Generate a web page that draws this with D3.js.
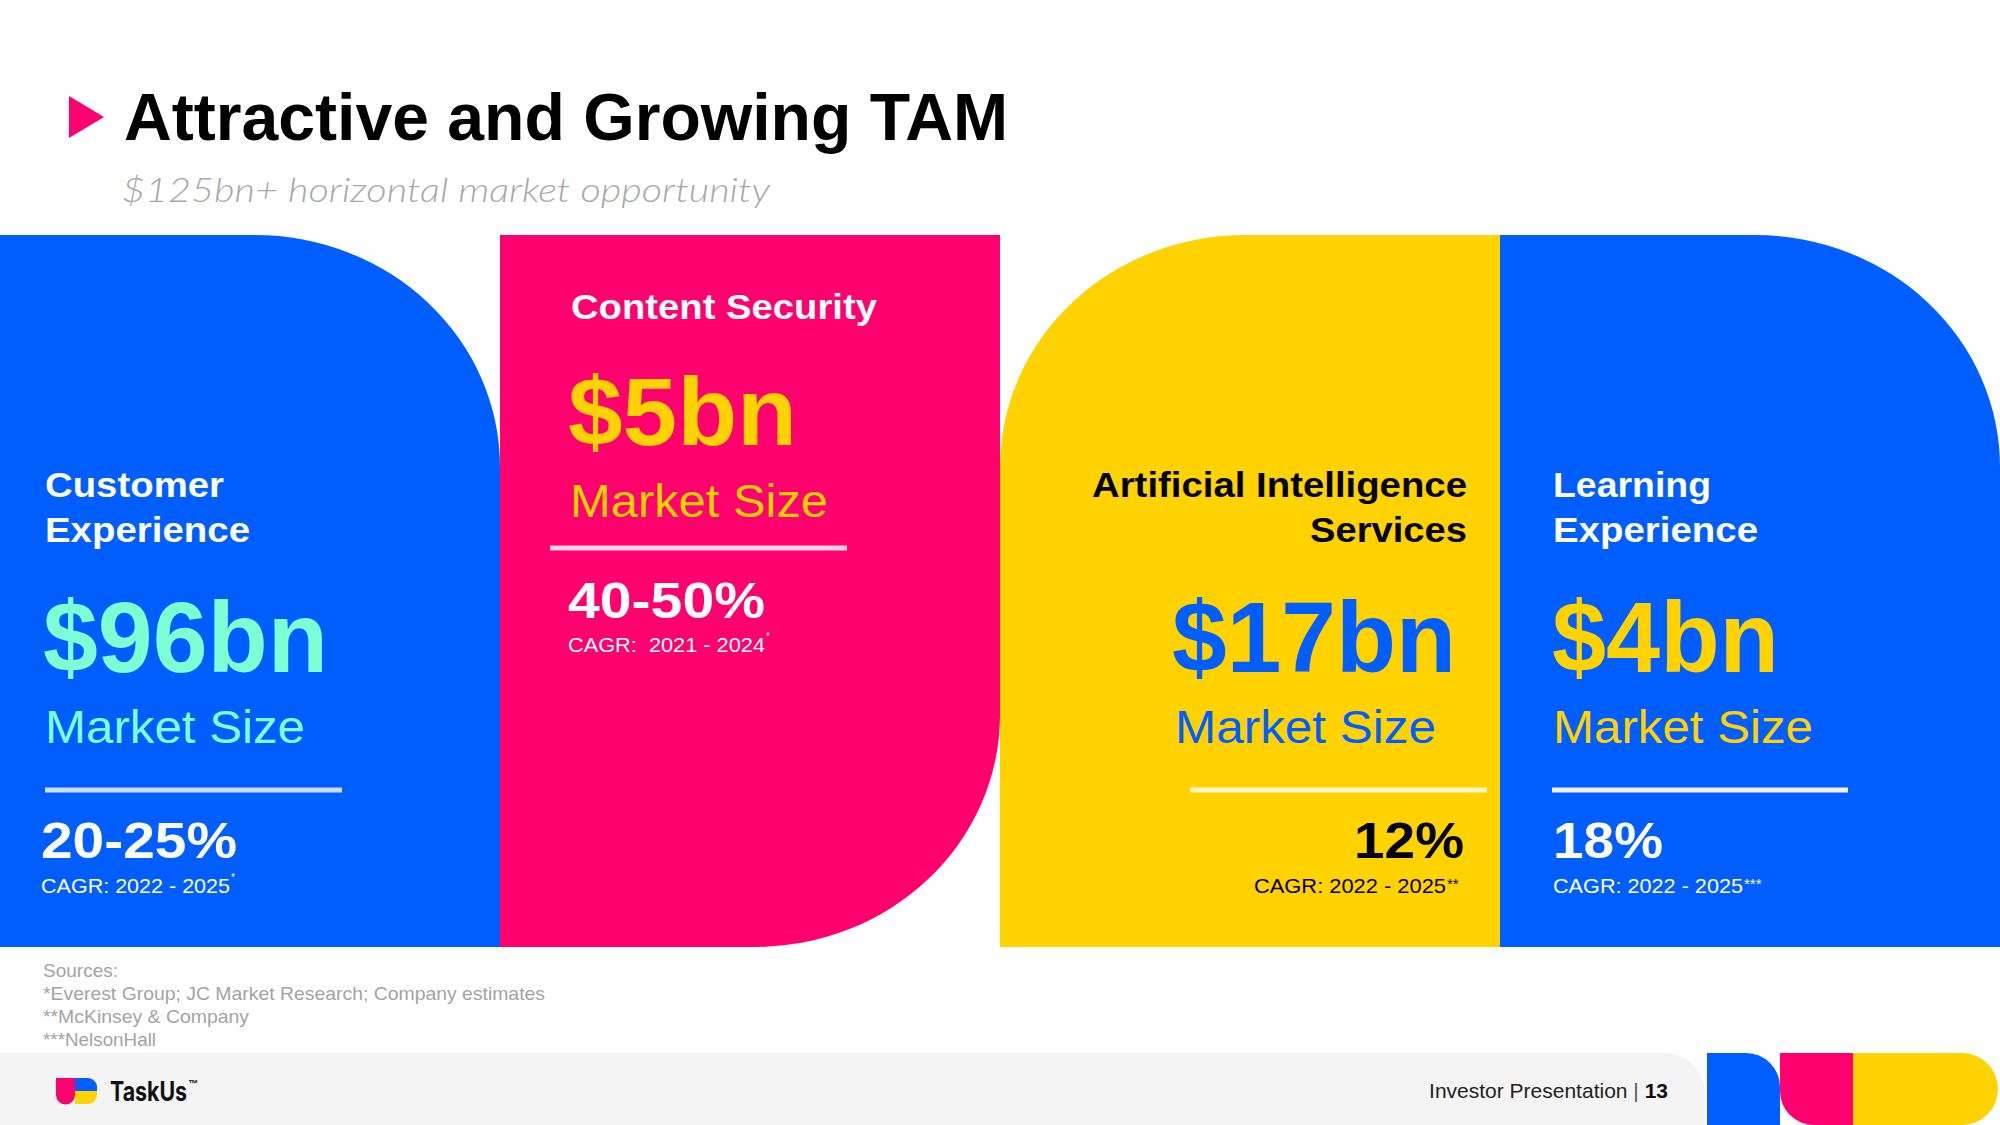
<!DOCTYPE html>
<html>
<head>
<meta charset="utf-8">
<script src="https://cdn.jsdelivr.net/npm/d3@7"></script>
<style>
  html, body { margin: 0; padding: 0; background: #ffffff; }
  svg { display: block; }
  text { font-family: "Liberation Sans", Arial, Helvetica, sans-serif; white-space: pre; }
</style>
</head>
<body>
<script>
// ---------------- DATA ----------------
const categories = ["Customer Experience", "Content Security", "Artificial Intelligence Services", "Learning Experience"];
const categoryLines = [["Customer", "Experience"], ["Content Security"], ["Artificial Intelligence", "Services"], ["Learning", "Experience"]];
const marketSizesBn = [96, 5, 17, 4];
const cagrLabels = ["20-25%", "40-50%", "12%", "18%"];
const cagrPeriods = ["CAGR: 2022 - 2025", "CAGR:  2021 - 2024", "CAGR: 2022 - 2025", "CAGR: 2022 - 2025"];
const sourceMarks = ["*", "*", "**", "***"];
const sourceLines = ["Sources:", "*Everest Group; JC Market Research; Company estimates", "**McKinsey & Company", "***NelsonHall"];
const titleText = "Attractive and Growing TAM";
const subtitleText = "$125bn+ horizontal market opportunity";
const footerText = "Investor Presentation";
const pageNumber = "13";

// ---------------- LAYOUT / STYLE ----------------
const W = 2000, H = 1125;
const C = { blue: "#005EFF", pink: "#FF006E", yellow: "#FFD200", mint: "#7DFFD6", white: "#FFFFFF", black: "#000000" };
const panelTop = 235, panelBottom = 947, RX = 245, RY = 232;

const layouts = [
  { fill: C.blue, corner: "tr", align: "left", tx: 45, titleY: [497, 542], titleW: [179, 205], valueX: 43, valueY: 672, valueW: 285, valueSize: 100,
    mX: 45, mY: 743, mW: 260, line: [45, 342, 790], cX: 41, cY: 858, cW: 196, pX: 41, pY: 893, pW: 189, markSize: 10, markDy: -12,
    cTitle: C.white, cValue: C.mint, cMarket: C.mint, cCagr: C.white, lineColor: "rgba(255,255,255,0.8)" },
  { fill: C.pink, corner: "br", align: "left", tx: 571, titleY: [319], titleW: [306], valueX: 568, valueY: 445, valueW: 229, valueSize: 96,
    mX: 570, mY: 517, mW: 258, line: [550, 847, 548], cX: 568, cY: 618, cW: 197, pX: 568, pY: 652, pW: 197, markSize: 10, markDy: -12,
    cTitle: C.white, cValue: C.yellow, cMarket: C.yellow, cCagr: C.white, lineColor: "rgba(255,255,255,0.82)" },
  { fill: C.yellow, corner: "tl", align: "right", tx: 1467, titleY: [497, 542], titleW: [375, 157], valueX: 1172, valueY: 672, valueW: 284, valueSize: 100,
    mX: 1175, mY: 743, mW: 261, line: [1190, 1487, 790], cX: 1354, cY: 858, cW: 110, pX: 1254, pY: 893, pW: 192, markSize: 15, markDy: -4,
    cTitle: C.black, cValue: C.blue, cMarket: C.blue, cCagr: C.black, lineColor: "rgba(255,255,255,0.8)" },
  { fill: C.blue, corner: "tr", align: "left", tx: 1553, titleY: [497, 542], titleW: [158, 205], valueX: 1552, valueY: 672, valueW: 227, valueSize: 100,
    mX: 1553, mY: 743, mW: 260, line: [1552, 1848, 790], cX: 1553, cY: 858, cW: 110, pX: 1553, pY: 893, pW: 190, markSize: 15, markDy: -4,
    cTitle: C.white, cValue: C.yellow, cMarket: C.yellow, cCagr: C.white, lineColor: "rgba(255,248,225,0.95)" }
];
const sourceWidths = [75, 502, 206, 113];

const xBand = d3.scaleBand().domain(categories).range([0, W]).padding(0);

const svg = d3.select("body").append("svg").attr("width", W).attr("height", H).attr("viewBox", `0 0 ${W} ${H}`);
svg.append("rect").attr("width", W).attr("height", H).attr("fill", "#fff");

function addText(g, o) {
  const t = g.append("text")
    .attr("x", o.x).attr("y", o.y)
    .attr("font-size", o.size)
    .attr("font-weight", o.weight || 400)
    .attr("fill", o.fill || "#000")
    .attr("text-anchor", o.anchor || "start")
    .attr("xml:space", "preserve")
    .text(o.text);
  if (o.style) t.attr("font-style", o.style);
  if (o.family) t.style("font-family", o.family);
  if (o.width) t.attr("textLength", o.width).attr("lengthAdjust", "spacingAndGlyphs");
  return t;
}

function panelPath(x0, x1, y0, y1, corner) {
  const p = [];
  if (corner === "tr") {
    p.push(`M${x0},${y0}`, `L${x1 - RX},${y0}`, `A${RX},${RY} 0 0 1 ${x1},${y0 + RY}`, `L${x1},${y1}`, `L${x0},${y1}`, "Z");
  } else if (corner === "br") {
    p.push(`M${x0},${y0}`, `L${x1},${y0}`, `L${x1},${y1 - RY}`, `A${RX},${RY} 0 0 1 ${x1 - RX},${y1}`, `L${x0},${y1}`, "Z");
  } else if (corner === "tl") {
    p.push(`M${x0 + RX},${y0}`, `L${x1},${y0}`, `L${x1},${y1}`, `L${x0},${y1}`, `L${x0},${y0 + RY}`, `A${RX},${RY} 0 0 1 ${x0 + RX},${y0}`, "Z");
  }
  return p.join(" ");
}

// ---------------- TITLE ----------------
svg.append("path").attr("d", "M69,96 L104,117 L69,138 Z").attr("fill", C.pink);
addText(svg, { x: 124, y: 140, text: titleText, size: 66, weight: 700, fill: "#000", width: 884 });
addText(svg, { x: 122, y: 202, text: subtitleText, size: 34, weight: 300, style: "italic", fill: "#a8a8a8", width: 648,
  family: "Lato, 'Open Sans', 'Liberation Sans', sans-serif" });

// ---------------- PANELS ----------------
categories.forEach((cat, i) => {
  const L = layouts[i];
  const x0 = xBand(cat), x1 = x0 + xBand.bandwidth();
  const g = svg.append("g").attr("class", "panel");
  g.append("path").attr("d", panelPath(x0, x1, panelTop, panelBottom, L.corner)).attr("fill", L.fill);

  categoryLines[i].forEach((line, j) => {
    const w = L.titleW[j];
    const x = L.align === "right" ? L.tx - w : L.tx;
    addText(g, { x, y: L.titleY[j], text: line, size: 35, weight: 700, fill: L.cTitle, width: w });
  });

  addText(g, { x: L.valueX, y: L.valueY, text: `$${marketSizesBn[i]}bn`, size: L.valueSize, weight: 700, fill: L.cValue, width: L.valueW });
  addText(g, { x: L.mX, y: L.mY, text: "Market Size", size: 46, weight: 400, fill: L.cMarket, width: L.mW });

  g.append("line").attr("x1", L.line[0]).attr("x2", L.line[1]).attr("y1", L.line[2]).attr("y2", L.line[2])
    .attr("stroke", L.lineColor).attr("stroke-width", 5);

  addText(g, { x: L.cX, y: L.cY, text: cagrLabels[i], size: 50, weight: 700, fill: L.cCagr, width: L.cW });
  addText(g, { x: L.pX, y: L.pY, text: cagrPeriods[i], size: 21, weight: 400, fill: L.cCagr, width: L.pW });
  addText(g, { x: L.pX + L.pW + 1, y: L.pY + L.markDy, text: sourceMarks[i], size: L.markSize, weight: 400, fill: L.cCagr });
});

// ---------------- SOURCES ----------------
const srcG = svg.append("g");
sourceLines.forEach((s, i) => {
  addText(srcG, { x: 43, y: 977 + i * 23, text: s, size: 19, weight: 400, fill: "#a3a3a3", width: sourceWidths[i] });
});

// ---------------- FOOTER ----------------
const fy0 = 1053, fy1 = 1125;
svg.append("path")
  .attr("d", `M0,${fy0} L1665,${fy0} A40,40 0 0 1 1705,${fy0 + 40} L1705,${fy1} L0,${fy1} Z`)
  .attr("fill", "#f4f4f4");

svg.append("path").attr("d", `M1707,${fy0} L1746,${fy0} A34,34 0 0 1 1780,${fy0 + 34} L1780,${fy1} L1707,${fy1} Z`).attr("fill", C.blue);
svg.append("path").attr("d", `M1780,${fy0} L1853,${fy0} L1853,${fy1} L1814,${fy1} A34,34 0 0 1 1780,${fy1 - 34} Z`).attr("fill", C.pink);
svg.append("path").attr("d", `M1853,${fy0} L1962,${fy0} A36,36 0 0 1 1962,${fy1} L1853,${fy1} Z`).attr("fill", C.yellow);

const ft = svg.append("text").attr("x", 1668).attr("y", 1098).attr("text-anchor", "end").attr("font-size", 21).attr("fill", "#222");
ft.append("tspan").text(footerText + " ");
ft.append("tspan").attr("fill", "#555").text("|");
ft.append("tspan").attr("font-weight", 700).attr("fill", "#111").text(" " + pageNumber);

// TaskUs logo
svg.append("path").attr("d", "M56,1078 L75,1078 L75,1095 A9.5,9.5 0 0 1 65.5,1104.5 A9.5,9.5 0 0 1 56,1095 Z").attr("fill", C.pink);
svg.append("path").attr("d", "M75,1078 L88,1078 A9,9 0 0 1 97,1087 L97,1091 L75,1091 Z").attr("fill", C.blue);
svg.append("path").attr("d", "M75,1091 L97,1091 L97,1095 A9,9 0 0 1 88,1104 L75,1104 Z").attr("fill", C.yellow);
addText(svg, { x: 110, y: 1101, text: "TaskUs", size: 27, weight: 700, fill: "#111", width: 77, family: "Inter, 'Liberation Sans', sans-serif" });
addText(svg, { x: 188, y: 1087, text: "™", size: 10, weight: 700, fill: "#111" });
</script>
</body>
</html>
